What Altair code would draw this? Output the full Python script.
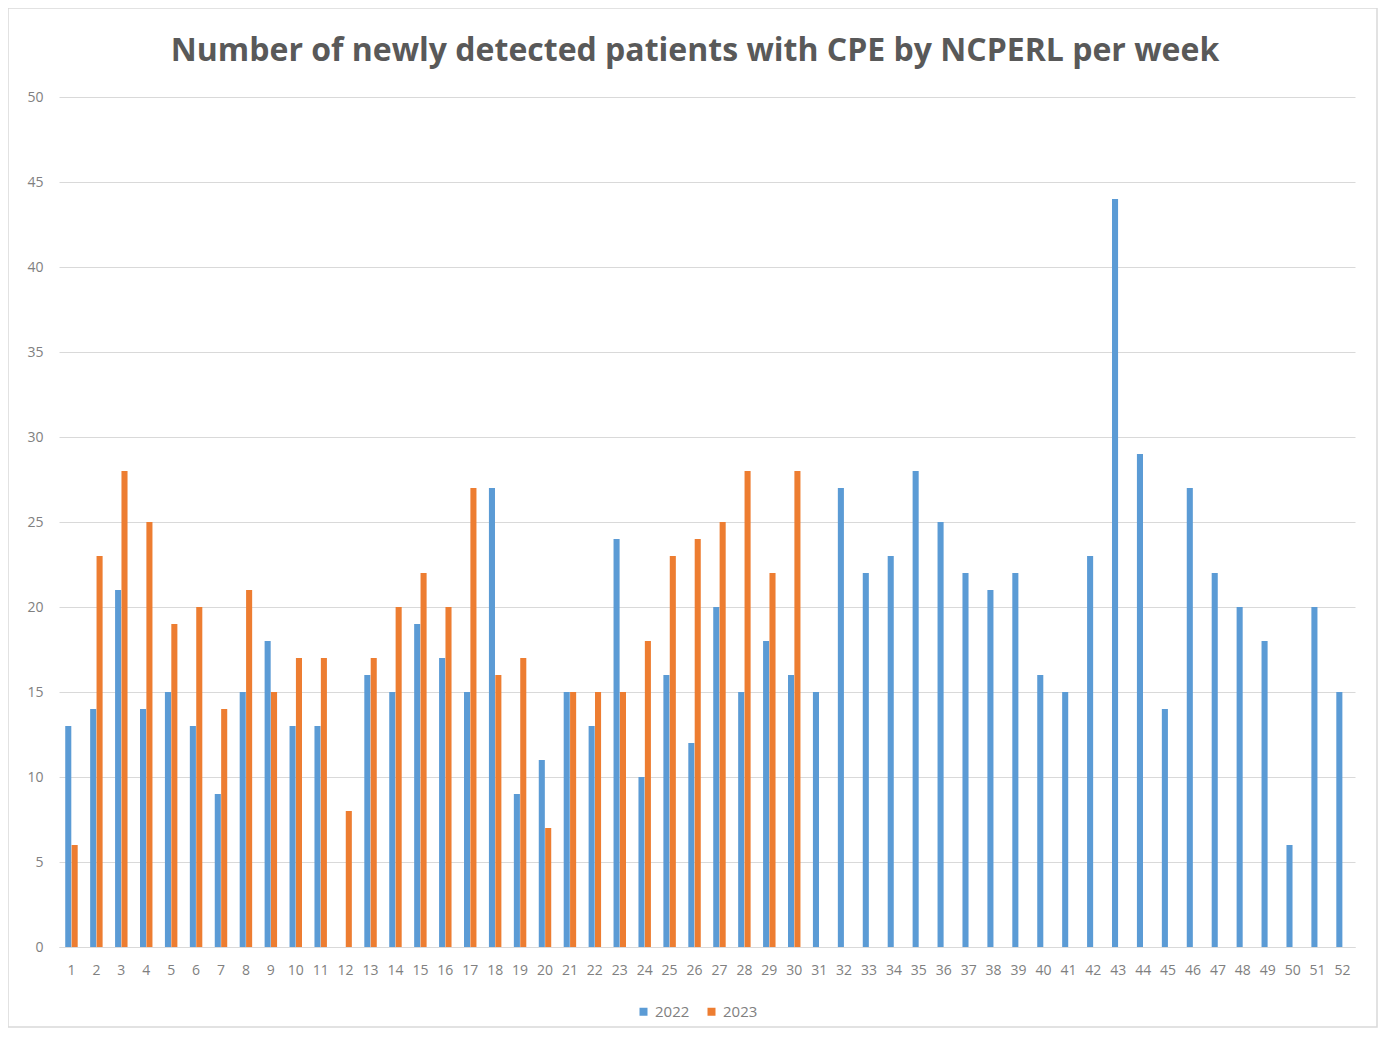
import altair as alt
import pandas as pd

weeks = list(range(1, 53))
y2022 = [13, 14, 21, 14, 15, 13, 9, 15, 18, 13, 13, None, 16, 15, 19, 17, 15, 27, 9, 11,
         15, 13, 24, 10, 16, 12, 20, 15, 18, 16, 15, 27, 22, 23, 28, 25, 22, 21, 22, 16,
         15, 23, 44, 29, 14, 27, 22, 20, 18, 6, 20, 15]
y2023 = [6, 23, 28, 25, 19, 20, 14, 21, 15, 17, 17, 8, 17, 20, 22, 20, 27, 16, 17, 7,
         15, 15, 15, 18, 23, 24, 25, 28, 22, 28]
series_names = ["2022", "2023"]
series_colors = ["#5B9BD5", "#ED7D31"]
title_text = "Number of newly detected patients with CPE by NCPERL per week"

rows = []
for i, w in enumerate(weeks):
    rows.append({"week": w, "year": "2022", "value": y2022[i]})
    if i < len(y2023):
        rows.append({"week": w, "year": "2023", "value": y2023[i]})
df = pd.DataFrame(rows)

W, H = 1296, 850
FONT = "Open Sans"
GREY = "#595959"
LGREY = "#808080"

bars = alt.Chart(df).mark_bar().encode(
    x=alt.X("week:O", title=None,
            scale=alt.Scale(paddingInner=0.5, paddingOuter=0.25),
            axis=alt.Axis(labelAngle=0, ticks=False, domainColor="#d9d9d9",
                          labelPadding=16, labelFontSize=14, labelColor=LGREY,
                          labelFont=FONT)),
    xOffset=alt.XOffset("year:N", scale=alt.Scale(domain=series_names, paddingInner=0.05)),
    y=alt.Y("value:Q", title=None,
            scale=alt.Scale(domain=[0, 50], nice=False),
            axis=alt.Axis(values=list(range(0, 51, 5)), ticks=False, domain=False,
                          gridColor="#d9d9d9", labelPadding=16, labelFontSize=14,
                          labelColor=LGREY, labelFont=FONT)),
    color=alt.Color("year:N", scale=alt.Scale(domain=series_names, range=series_colors),
                    legend=alt.Legend(title=None, orient="none", direction="horizontal",
                                      legendX=577, legendY=907, symbolType="square",
                                      symbolSize=64, labelFontSize=15, labelColor=LGREY,
                                      labelFont=FONT, columnPadding=14)),
)

one = pd.DataFrame({"a": [0]})

border = alt.Chart(one).mark_rect(
    fill=None, stroke="#d9d9d9", strokeWidth=1.5, clip=False
).encode(
    x=alt.value(-51), x2=alt.value(W + 22),
    y=alt.value(-89), y2=alt.value(H + 80),
)

title = alt.Chart(one).mark_text(
    fontSize=32, font=FONT, fontWeight="bold", color=GREY,
    align="center", baseline="middle", clip=False
).encode(
    x=alt.value(636), y=alt.value(-46), text=alt.value(title_text),
)

chart = alt.layer(border, bars, title).properties(
    width=W, height=H,
    autosize=alt.AutoSizeParams(type="none"),
    padding={"left": 51, "top": 89, "right": 24, "bottom": 82},
).configure_view(stroke=None)

chart.save("out.html", embed_options={"renderer": "svg", "actions": False})
